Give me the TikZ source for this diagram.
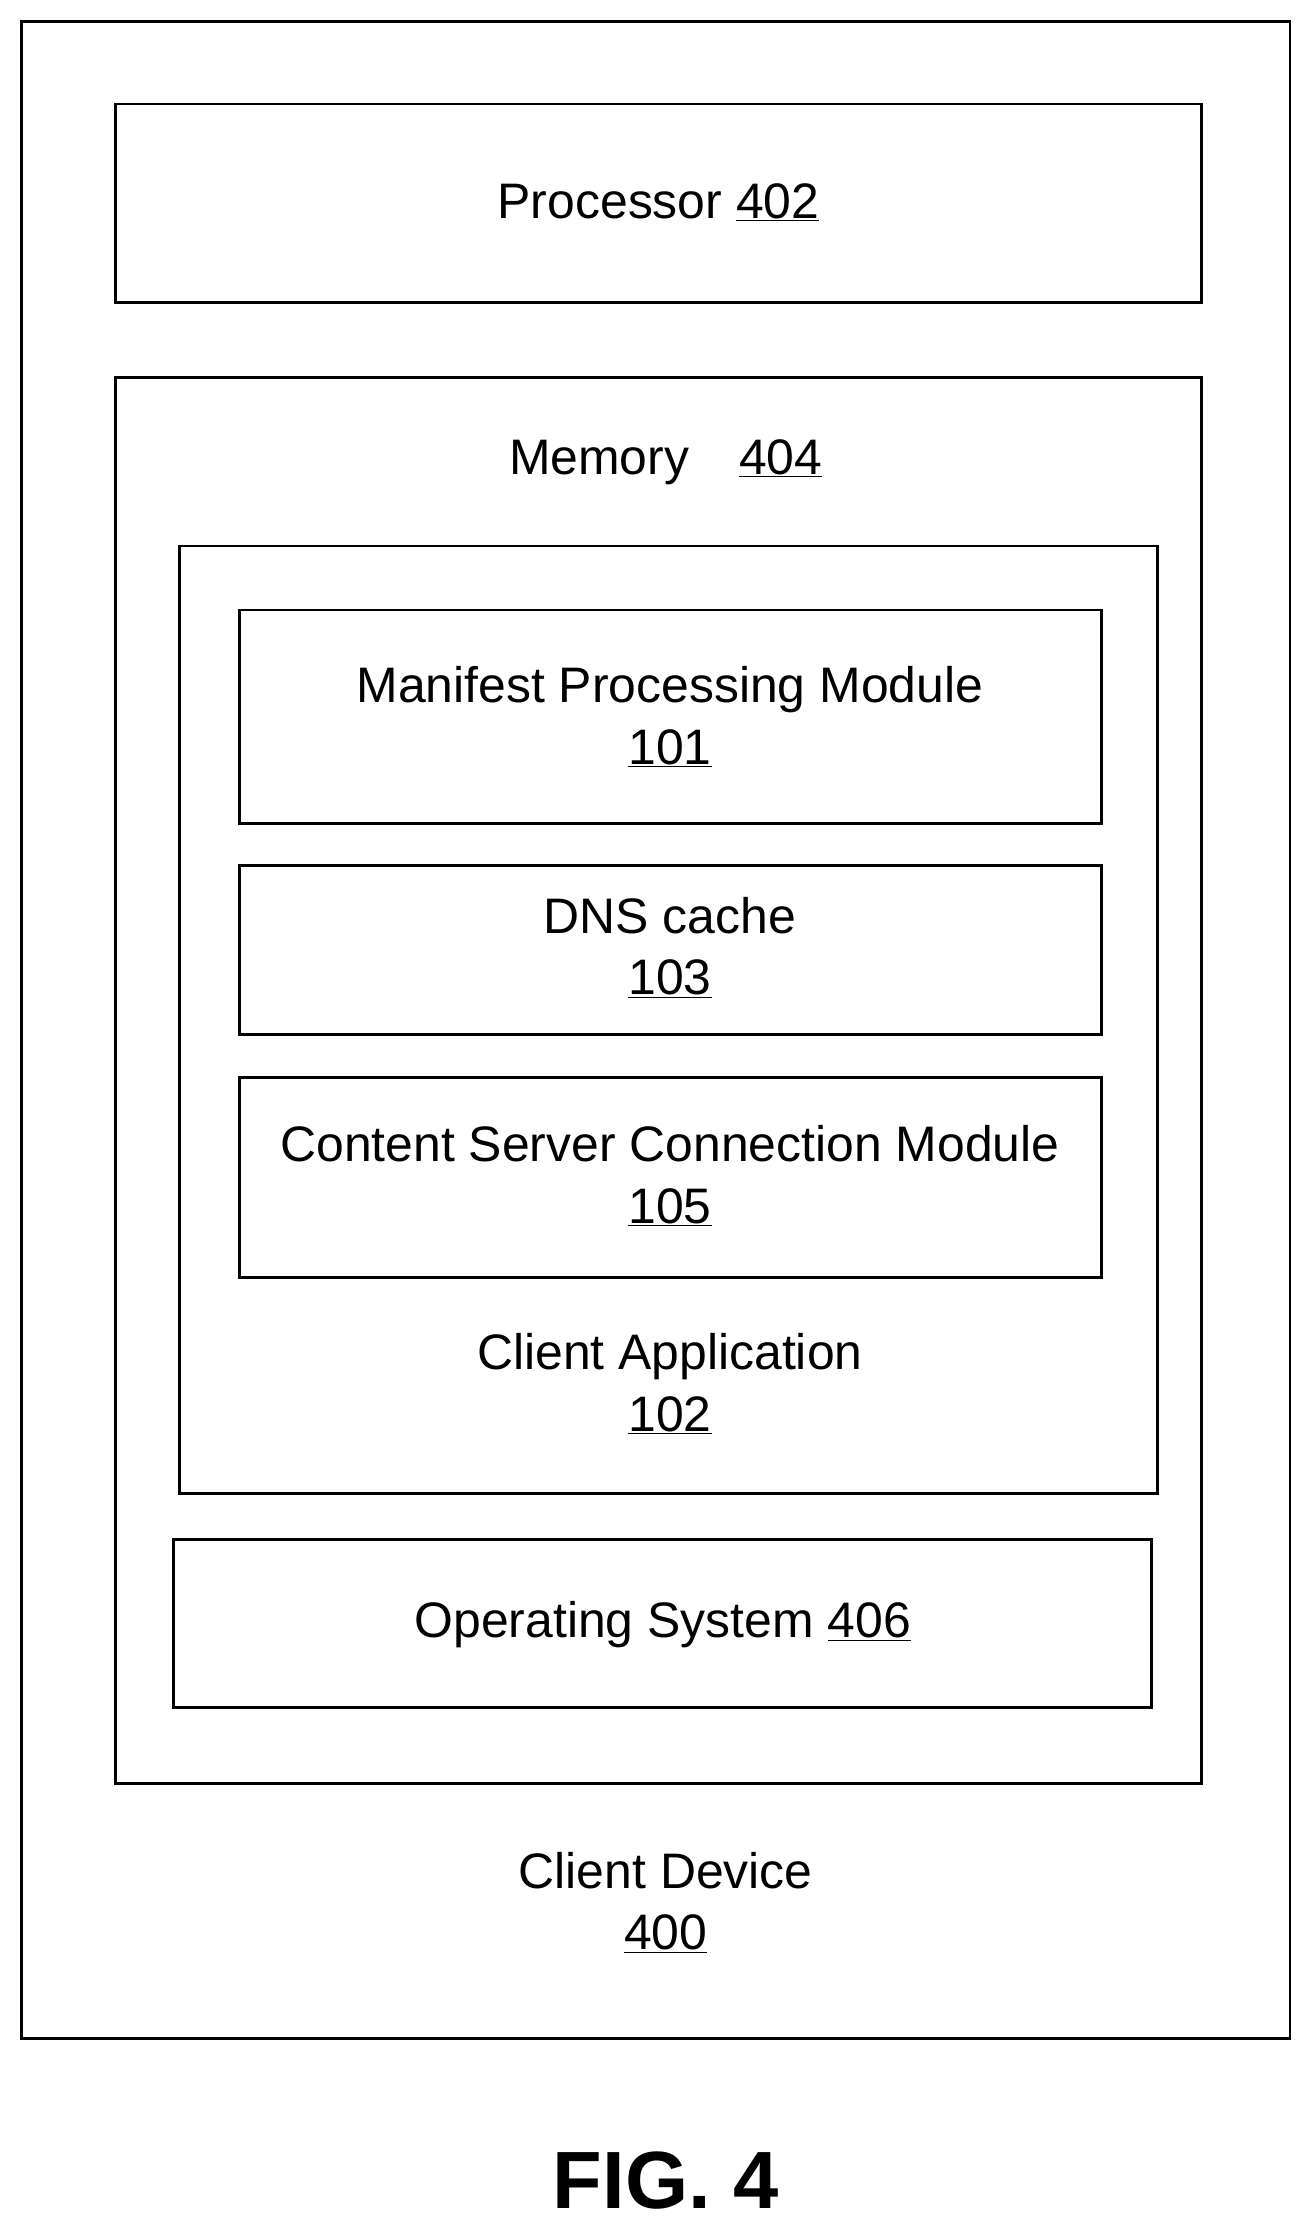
\documentclass[tikz,border=0pt]{standalone}
\usepackage{fontspec}
\setmainfont{Liberation Sans}
\begin{document}
\begin{tikzpicture}[x=1pt,y=-1pt,
 box/.style={draw=black,line width=2pt},
 lbl/.style={font=\fontsize{35}{43}\selectfont,align=center,inner sep=0pt}]
\useasboundingbox (0,0) rectangle (922,1568);
\draw[box] (15,15) rectangle (905,1430);
\draw[box] (81,73) rectangle (843,212);
\draw[box] (81,265) rectangle (843,1251);
\draw[box] (126,383) rectangle (812,1048);
\draw[box] (168,428) rectangle (773,578);
\draw[box] (168,607) rectangle (773,726);
\draw[box] (168,756) rectangle (773,896);
\draw[box] (122,1080) rectangle (808,1198);
\node[lbl] (p) at (462,142) {Processor \underline{402}};
\node[lbl] (m) at (467,324) {Memory\quad\underline{404}};
\node[lbl] (mp) at (470,503) {Manifest Processing Module\\\underline{101}};
\node[lbl] (d) at (470,665) {DNS cache\\\underline{103}};
\node[lbl] (c) at (470,825) {Content Server Connection Module\\\underline{105}};
\node[lbl] (ca) at (470,971) {Client Application\\\underline{102}};
\node[lbl] (os) at (465,1140) {Operating System \underline{406}};
\node[lbl] (cd) at (467,1335) {Client Device\\\underline{400}};
\node[inner sep=0pt,font=\fontsize{57}{64}\selectfont\bfseries] (f) at (467,1530) {FIG. 4};
\end{tikzpicture}
\end{document}
